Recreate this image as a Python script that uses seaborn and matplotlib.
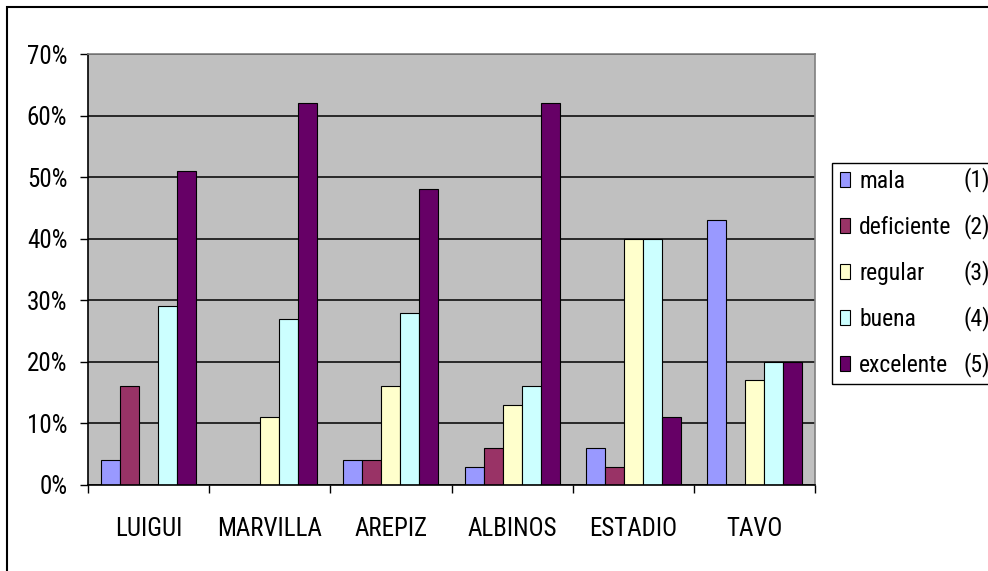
import matplotlib
matplotlib.use("Agg")
import matplotlib.pyplot as plt
import seaborn as sns
import pandas as pd
from matplotlib import font_manager
from matplotlib.patches import Patch, Rectangle
from matplotlib.ticker import PercentFormatter, FixedLocator

# --- data -------------------------------------------------------------
places = ["LUIGUI", "MARVILLA", "AREPIZ", "ALBINOS", "ESTADIO", "TAVO"]
ratings = ["mala", "deficiente", "regular", "buena", "excelente"]
rating_codes = ["(1)", "(2)", "(3)", "(4)", "(5)"]

mala = [4, 0, 4, 3, 6, 43]
deficiente = [16, 0, 4, 6, 3, 0]
regular = [0, 11, 16, 13, 40, 17]
buena = [29, 27, 28, 16, 40, 20]
excelente = [51, 62, 48, 62, 11, 20]

y_ticks = [0, 10, 20, 30, 40, 50, 60, 70]
colors = ["#9999FF", "#993366", "#FFFFCC", "#CCFFFF", "#660066"]

series = {"mala": mala, "deficiente": deficiente, "regular": regular,
          "buena": buena, "excelente": excelente}
df = pd.DataFrame(
    [(p, r, v) for r in ratings for p, v in zip(places, series[r])],
    columns=["lugar", "calificacion", "porcentaje"],
)

# --- style ------------------------------------------------------------
sns.set_theme(style="white")

# prefer a narrow sans face; fall back to the regular one
# (family, tick size, legend size, legend row spacing)
family, fs, lfs, lspace = ["Liberation Sans", "DejaVu Sans"], 15.5, 15.0, 0.88
for name, size, lsize, sp in [("Liberation Sans Narrow", 18.0, 17.5, 0.8),
                              ("Roboto Condensed", 18.0, 17.0, 0.975),
                              ("Open Sans Condensed", 17.5, 16.5, 0.85)]:
    try:
        font_manager.findfont(name, fallback_to_default=False)
        family, fs, lfs, lspace = [name, "DejaVu Sans"], size, lsize, sp
        break
    except ValueError:
        continue

plt.rcParams["font.family"] = family
plt.rcParams["text.color"] = "black"
plt.rcParams["xtick.color"] = "black"
plt.rcParams["ytick.color"] = "black"

W, H = 988, 571


def fx(px):
    return px / W


def fy(py):
    return 1 - py / H


fig = plt.figure(figsize=(W / 100, H / 100), dpi=100)
fig.patch.set_facecolor("white")

# outer chart frame (runs off the right and bottom edges)
fig.add_artist(Rectangle((fx(7), fy(620)), 2.0, fy(7) - fy(620),
                         transform=fig.transFigure, fill=False,
                         ec="black", lw=1.5, zorder=0))

ax = fig.add_axes([fx(88), fy(485), fx(815) - fx(88), fy(54) - fy(485)])
ax.set_facecolor("#C0C0C0")

sns.barplot(data=df, x="lugar", y="porcentaje", hue="calificacion",
            order=places, hue_order=ratings, palette=colors,
            width=0.785, gap=0, errorbar=None, edgecolor="black",
            linewidth=0.8, saturation=1, legend=False, ax=ax)

ax.set_ylim(0, 70)
ax.set_xlim(-0.5, len(places) - 0.5)
ax.yaxis.set_major_locator(FixedLocator(y_ticks))
ax.yaxis.set_major_formatter(PercentFormatter(100, decimals=0))
ax.set_xlabel("")
ax.set_ylabel("")

ax.set_axisbelow(True)
ax.yaxis.grid(True, color="black", lw=1.1)
ax.xaxis.grid(False)

for side in ("left", "bottom"):
    ax.spines[side].set_color("black")
    ax.spines[side].set_linewidth(1.2)
for side in ("top", "right"):
    ax.spines[side].set_color("#808080")
    ax.spines[side].set_linewidth(1.2)

ax.tick_params(axis="y", which="major", direction="out", length=5.5,
               width=1.0, color="black", pad=9.4, labelsize=fs,
               labelcolor="black", left=True)
ax.xaxis.set_minor_locator(FixedLocator([i - 0.5 for i in range(len(places) + 1)]))
ax.tick_params(axis="x", which="major", length=0, pad=23, labelsize=fs,
               labelcolor="black", bottom=True)
ax.tick_params(axis="x", which="minor", direction="out", length=5.8,
               width=1.0, color="black", bottom=True)

# --- legend -----------------------------------------------------------
handles = [Patch(facecolor=c, edgecolor="black", lw=0.8) for c in colors]
leg = fig.legend(handles, ratings, loc="upper left",
                 bbox_to_anchor=(fx(840), fy(169.5)),
                 bbox_transform=fig.transFigure, frameon=False,
                 fontsize=lfs, handlelength=0.44, handleheight=0.6,
                 handletextpad=0.38, labelspacing=lspace, borderpad=0.0,
                 borderaxespad=0.0)

fig.add_artist(Rectangle((fx(832), fy(384)), fx(1010) - fx(832),
                         fy(163) - fy(384), transform=fig.transFigure,
                         fill=False, ec="black", lw=1.0, zorder=0))

fig.canvas.draw()
inv = fig.transFigure.inverted()
for txt, code in zip(leg.get_texts(), rating_codes):
    bb = txt.get_window_extent()
    y0 = inv.transform((0, bb.y0))[1]
    fig.text(fx(963), y0, code, fontsize=lfs, va="bottom", ha="left",
             color="black")

fig.savefig("out.png", dpi=100)
